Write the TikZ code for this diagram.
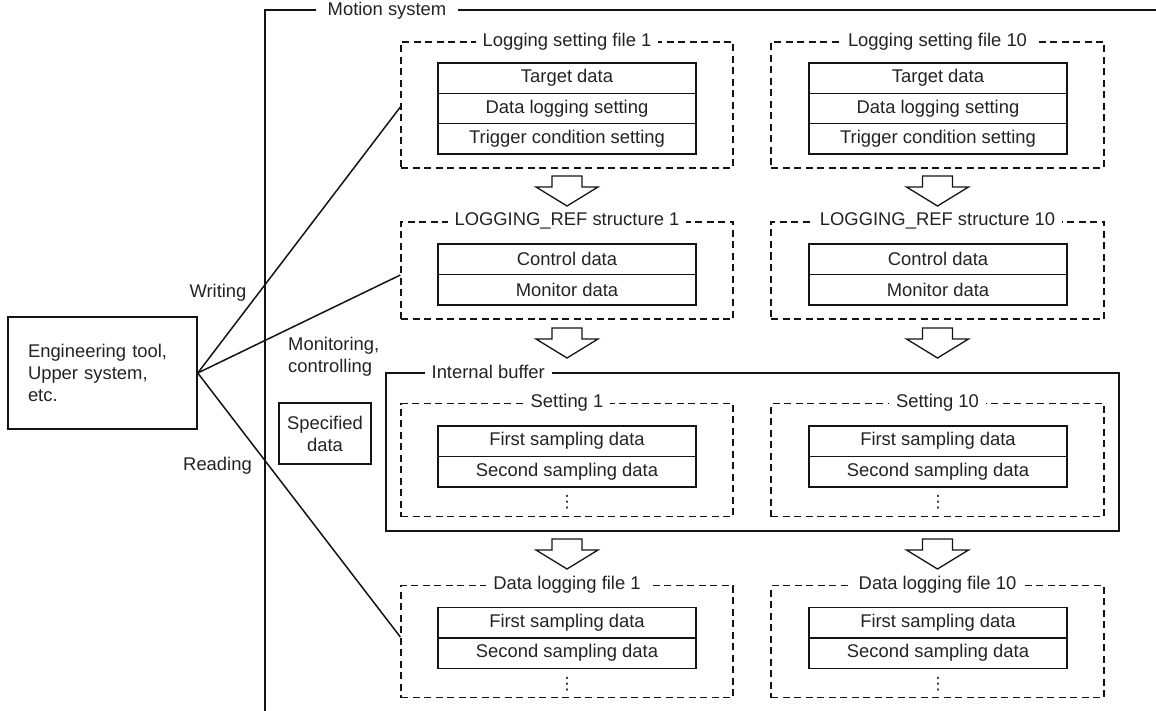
\documentclass[tikz,border=0pt]{standalone}
\usepackage{fontspec}
\setmainfont{Liberation Sans}
\newfontfamily\dejavu{DejaVu Sans}
\definecolor{txt}{RGB}{35,35,35}
\definecolor{ln}{RGB}{20,20,20}
\begin{document}
\begin{tikzpicture}[x=1pt,y=-1pt,
  font=\fontsize{18.4}{22}\selectfont, text=txt,
  dbox/.style={draw=ln, line width=1.3pt, dash pattern=on 7pt off 4.5pt, inner sep=0pt},
  lbox/.style={dbox, minimum width=332pt},
  rbox/.style={dbox, minimum width=333pt},
  cell/.style={draw=ln, line width=1.3pt, minimum width=258pt, minimum height=30.5pt, inner sep=0pt},
  ttl/.style={fill=white, inner xsep=7pt, inner ysep=1pt},
  dotsnode/.style={font=\dejavu\fontsize{17}{17}\selectfont, inner sep=0pt},
  solid box/.style={draw=ln, line width=1.5pt},
  conn/.style={draw=ln, line width=1.5pt},
  barr/.pic={\draw[ln, line width=1.3pt, fill=white, line join=miter]
     (-15pt,0pt) -- (-15pt,-11pt) -- (-31pt,-11pt) -- (0pt,-30pt) -- (31pt,-11pt) -- (15pt,-11pt) -- (15pt,0pt) -- cycle;}
]
\useasboundingbox (0,0) rectangle (1156,711);

% Motion system frame
\coordinate (msr) at (1156,10);
\coordinate (mstl) at (265,10);
\coordinate (msb) at (265,711);
\draw[ln, line width=1.5pt] (msr) -- (mstl) -- (msb);
\node[ttl, inner xsep=12pt] (mst) at (387,11) {Motion system};

% Engineering tool
\node[solid box, text width=149pt, minimum height=112pt, inner xsep=20pt, align=left] (eng) at (102.5,373)
  {Engineering tool,\\Upper system,\\etc.};

% Specified data
\node[solid box, minimum width=92pt, minimum height=61pt, align=center, inner sep=0pt] (spec) at (325,433.5)
  {Specified\\data};

% ---------------- Logging setting files
\node[lbox, minimum height=126pt] (lsf1) at (567,105) {};
\node[ttl] at (lsf1.north) {Logging setting file 1};
\node[cell] (lsf1a) at (567,78.2) {Target data};
\node[cell] (lsf1b) at (567,108.5) {Data logging setting};
\node[cell] (lsf1c) at (567,138.8) {Trigger condition setting};

\node[rbox, minimum height=126pt] (lsf10) at (937.5,105) {};
\node[ttl] at (lsf10.north) {Logging setting file 10};
\node[cell] (lsf10a) at (938,78.2) {Target data};
\node[cell] (lsf10b) at (938,108.5) {Data logging setting};
\node[cell] (lsf10c) at (938,138.8) {Trigger condition setting};

\pic at (567,176) {barr};
\pic at (937.5,176) {barr};

% ---------------- LOGGING_REF structures
\node[lbox, minimum height=97pt] (lr1) at (567,270.5) {};
\node[ttl] at (lr1.north) {LOGGING\_REF structure 1};
\node[cell] (lr1a) at (567,259.2) {Control data};
\node[cell] (lr1b) at (567,289.8) {Monitor data};

\node[rbox, minimum height=97pt] (lr10) at (937.5,270.5) {};
\node[ttl] at (lr10.north) {LOGGING\_REF structure 10};
\node[cell] (lr10a) at (938,259.2) {Control data};
\node[cell] (lr10b) at (938,289.8) {Monitor data};

\pic at (567,328) {barr};
\pic at (937.5,328) {barr};

% ---------------- Internal buffer
\node[solid box, minimum width=733pt, minimum height=158pt, inner sep=0pt] (ib) at (752.5,452) {};
\node[ttl] at ([xshift=103pt]ib.north west) {Internal buffer};

\node[lbox, minimum height=113pt] (set1) at (567,460) {};
\node[ttl] at (set1.north) {Setting 1};
\node[cell] (set1a) at (567,441.2) {First sampling data};
\node[cell] (set1b) at (567,471.8) {Second sampling data};
\node[dotsnode] (set1d) at (567,502) {⋮};

\node[rbox, minimum height=113pt] (set10) at (937.5,460) {};
\node[ttl] at (set10.north) {Setting 10};
\node[cell] (set10a) at (938,441.2) {First sampling data};
\node[cell] (set10b) at (938,471.8) {Second sampling data};
\node[dotsnode] (set10d) at (938,502) {⋮};

\pic at (567,539) {barr};
\pic at (937.5,539) {barr};

% ---------------- Data logging files
\node[lbox, minimum height=112pt] (dlf1) at (567,641.5) {};
\node[ttl] at (dlf1.north) {Data logging file 1};
\node[cell] (dlf1a) at (567,623) {First sampling data};
\node[cell] (dlf1b) at (567,653) {Second sampling data};
\node[dotsnode] (dlf1d) at (567,684) {⋮};

\node[rbox, minimum height=112pt] (dlf10) at (937.5,641.5) {};
\node[ttl] at (dlf10.north) {Data logging file 10};
\node[cell] (dlf10a) at (938,623) {First sampling data};
\node[cell] (dlf10b) at (938,653) {Second sampling data};
\node[dotsnode] (dlf10d) at (938,684) {⋮};

% ---------------- Connectors
\draw[conn] (eng.east) -- ([yshift=-2pt]lsf1.west);
\draw[conn] (eng.east) -- ([yshift=-4.5pt]lr1.west);
\draw[conn] (eng.east) -- ([yshift=4.5pt]dlf1.west);

% Labels
\node (lwrite) at (218,293) {Writing};
\node[align=left, anchor=west, inner sep=0pt] (lmon) at (288,357) {Monitoring,\\controlling};
\node (lread) at (217.5,466) {Reading};

\end{tikzpicture}
\end{document}
